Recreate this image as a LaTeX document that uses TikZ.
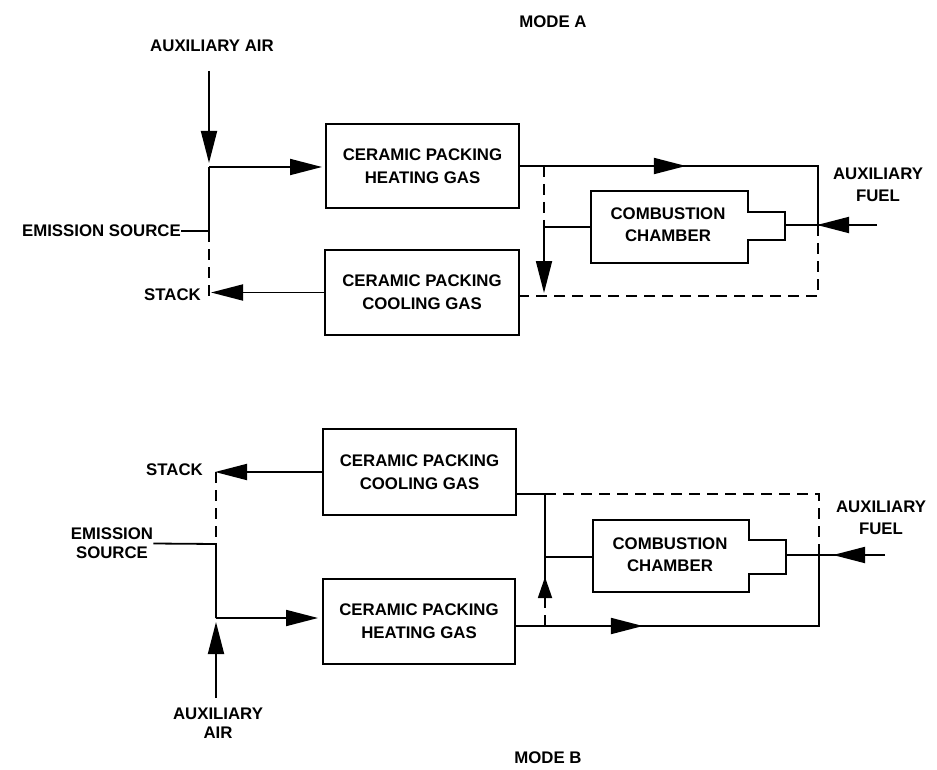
\documentclass[tikz,border=0pt]{standalone}
\usepackage{fontspec}
\setmainfont{Liberation Sans}
\usetikzlibrary{arrows.meta,decorations.markings}

\begin{document}
\begin{tikzpicture}[x=1pt,y=-1pt,
  bigtri/.tip={Triangle[length=32pt,width=16pt]},
  smalltri/.tip={Triangle[length=21pt,width=14pt]},
  lbl/.style={font=\fontsize{16.8}{22}\selectfont\bfseries, inner sep=0pt, align=center},
  tight/.style={font=\fontsize{16.8}{19}\selectfont\bfseries},
  box/.style={draw, line width=1.9pt, inner sep=0pt, align=center,
    font=\fontsize{16.8}{23}\selectfont\bfseries},
  flow/.style={line width=1.8pt},
  broken/.style={line width=1.7pt, dash pattern=on 11pt off 7pt},
  midarrow/.style={postaction={decorate}, decoration={markings,
    mark=at position #1 with {\arrow{bigtri}}}},
  shortarrow/.style={postaction={decorate}, decoration={markings,
    mark=at position #1 with {\arrow{smalltri}}}},
]
\useasboundingbox (0,0) rectangle (937,770);

% ---------------- MODE A ----------------
\node[lbl] (modeA) at (553,22) {MODE A};
\node[lbl] (airAlbl) at (212,46) {AUXILIARY AIR};
\node[lbl, anchor=east] (emA) at (181,231) {EMISSION SOURCE};
\node[lbl, anchor=east] (stA) at (201,295) {STACK};
\node[lbl] (fuelAlbl) at (878,184.5) {AUXILIARY\\FUEL};

\node[box, minimum width=193pt, minimum height=84pt] (hA) at (422.5,166)
  {CERAMIC PACKING\\HEATING GAS};
\node[box, minimum width=194pt, minimum height=85pt] (cA) at (422,292.5)
  {CERAMIC PACKING\\COOLING GAS};

% combustion chamber with its nozzle
\draw[flow, line join=miter] (748,212) -- (748,191) -- (591,191) -- (591,263)
  -- (748,263) -- (748,240) -- (785,240) -- (785,212) -- cycle;
\node[lbl] (ccA) at (668,225) {COMBUSTION\\CHAMBER};

\coordinate (airAtop) at (209,71);
\coordinate (jA) at (209,167);
\coordinate (eA) at (209,231);
\coordinate (dA) at (209,298);
\coordinate (sA) at (211,292.5);
\coordinate (trA) at (818,166);
\coordinate (fjA) at (818,225);
\coordinate (brA) at (818,296);
\coordinate (fuelA) at (877,225);
\coordinate (nozA) at (785,225);
\coordinate (ltA) at (544,166);
\coordinate (lmA) at (544,227);
\coordinate (ccAl) at (591,227);
\coordinate (lbA) at (544,293);

\draw[flow, -{bigtri}, shorten >=4pt] (airAtop) -- (jA);
\draw[flow] (emA.east) -- (eA) -- (jA);
\draw[flow, -{bigtri}, shorten >=3pt] (jA) -- (jA -| hA.west);
\draw[broken] (eA) -- (dA);
\draw[flow, -{bigtri}] (cA.west) -- (sA);
\draw[flow, midarrow=166pt] (hA.east) -- (trA) -- (fjA);
\draw[flow, midarrow=60pt] (fuelA) -- (nozA);
\draw[broken] (fjA) -- (brA) -- (brA -| cA.east);
\draw[broken] (ltA) -- (lmA);
\draw[flow, -{bigtri}] (ccAl) -- (lmA) -- (lbA);

% ---------------- MODE B ----------------
\node[lbl, anchor=east] (stB) at (203,470) {STACK};
\node[lbl, tight] (emB) at (112,543.5) {EMISSION\\SOURCE};
\node[lbl, tight] (airBlbl) at (218,723) {AUXILIARY\\AIR};
\node[lbl] (fuelBlbl) at (881,518) {AUXILIARY\\FUEL};
\node[lbl] (modeB) at (548,758) {MODE B};

\node[box, minimum width=193pt, minimum height=86pt] (cB) at (419.5,472)
  {CERAMIC PACKING\\COOLING GAS};
\node[box, minimum width=192pt, minimum height=85pt] (hB) at (419,621.5)
  {CERAMIC PACKING\\HEATING GAS};

\draw[flow, line join=miter] (749,540) -- (749,520) -- (593,520) -- (593,592)
  -- (749,592) -- (749,574) -- (786,574) -- (786,540) -- cycle;
\node[lbl] (ccB) at (670,554.5) {COMBUSTION\\CHAMBER};

\coordinate (sB) at (215,472);
\coordinate (tB) at (216,472);
\coordinate (eB) at (216,544);
\coordinate (jB) at (216,618);
\coordinate (airBbot) at (216,698);
\coordinate (tlB) at (545,494);
\coordinate (trB) at (819,494);
\coordinate (fjB) at (819,555);
\coordinate (brB) at (819,626);
\coordinate (lmB) at (545,557);
\coordinate (ccBl) at (593,557);
\coordinate (laB) at (545,597);
\coordinate (lbB) at (545,626);
\coordinate (fuelB) at (885,555);
\coordinate (nozB) at (786,555);

\draw[flow, -{bigtri}] (cB.west) -- (sB);
\draw[broken] (tB) -- (eB);
\draw[flow] (emB.east) -- (eB) -- (jB);
\draw[flow, -{bigtri}, shorten >=4pt] (jB) -- (jB -| hB.west);
\draw[flow, -{bigtri}, shorten >=4pt] (airBbot) -- (jB);
\draw[flow] (cB.east |- tlB) -- (tlB);
\draw[broken] (tlB) -- (trB) -- (fjB);
\draw[flow, midarrow=127pt] (hB.east |- brB) -- (brB) -- (fjB);
\draw[flow, midarrow=52pt] (fuelB) -- (nozB);
\draw[flow] (ccBl) -- (lmB);
\draw[flow, shortarrow=20pt] (laB) -- (tlB);
\draw[broken] (laB) -- (lbB);
\end{tikzpicture}
\end{document}
